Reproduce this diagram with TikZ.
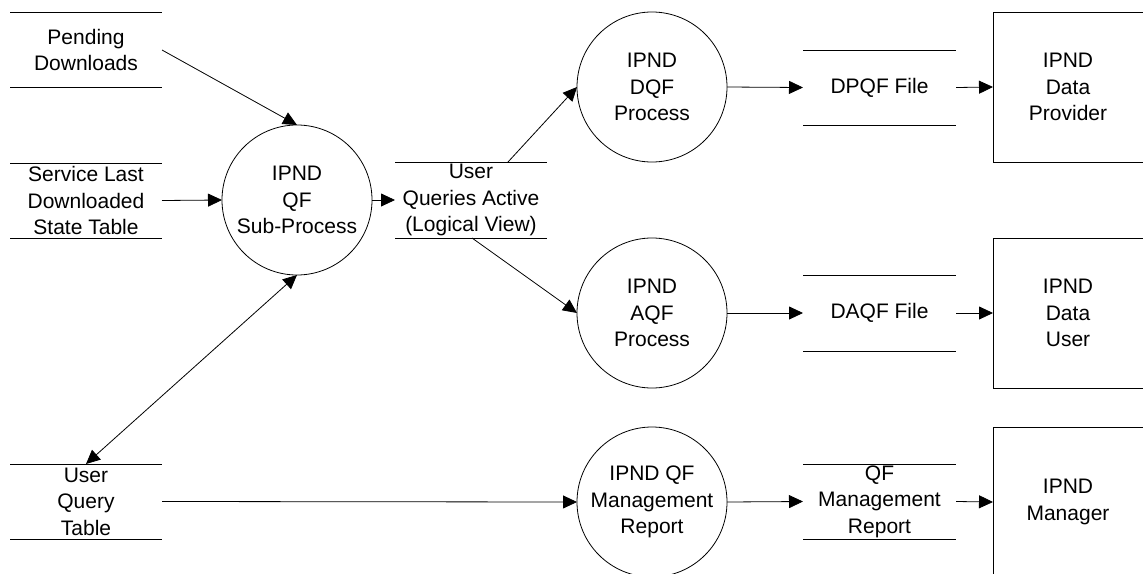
\documentclass[tikz,border=0pt]{standalone}
\usepackage{fontspec}
\setmainfont{Liberation Sans}
\usetikzlibrary{arrows.meta}

\begin{document}
\begin{tikzpicture}[x=1pt, y=-1pt, line width=0.8pt,
    >={Triangle[length=14pt,width=13pt]},
    every node/.style={font=\fontsize{21}{26.5}\selectfont, align=center, inner sep=0, outer sep=0},
    proc/.style={circle, draw, minimum size=150pt},
    store/.style={minimum width=152pt, minimum height=75pt},
    ext/.style={draw, minimum size=150pt},
    flow/.style={->}
  ]
    \useasboundingbox (0,0) rectangle (1143,573);
    \clip (0,0) rectangle (1143,573);
    % data stores
    \node[store] (pend) at (86,50) {Pending\\Downloads};
    \node[store] (svc) at (86,200.5) {Service Last\\Downloaded\\State Table};
    \node[store] (uqt) at (86,501.5) {User\\Query\\Table};
    \node[store, minimum height=76pt] (uqa) at (471,200) {User\\Queries Active\\(Logical View)};
    \node[store, minimum width=153pt] (dpqf) at (879.5,87.5) {DPQF File};
    \node[store, minimum width=153pt, minimum height=76pt] (daqf) at (879.5,313) {DAQF File};
    \node[store, minimum width=153pt] (qfmr) at (879.5,501.5) {QF\\Management\\Report};
    \foreach \s in {pend,svc,uqt,uqa,dpqf,daqf,qfmr}
      \draw[line width=0.6pt] (\s.north west) -- (\s.north east) (\s.south west) -- (\s.south east);
    % processes
    \node[proc] (qfsub) at (297,200) {IPND\\QF\\Sub-Process};
    \node[proc] (dqf) at (652,87) {IPND\\DQF\\Process};
    \node[proc] (aqf) at (652,313) {IPND\\AQF\\Process};
    \node[proc] (mgmt) at (652,502) {IPND QF\\Management\\Report};
    % external entities
    \node[ext] (prov) at (1068,87) {IPND\\Data\\Provider};
    \node[ext] (duser) at (1068,313) {IPND\\Data\\User};
    \node[ext] (mgr) at (1068,502) {IPND\\Manager};
    % flows
    \draw[flow] (pend.east) -- (qfsub.north);
    \draw[flow] (svc.east) -- (qfsub.west);
    \draw[flow] (qfsub.east) -- (uqa.west);
    \draw[flow] ([xshift=37pt]uqa.north) -- (dqf.west);
    \draw[flow] ([xshift=1pt]uqa.south) -- (aqf.west);
    \draw[flow] (dqf.east) -- (dpqf.west);
    \draw[flow] (dpqf.east) -- (prov.west);
    \draw[flow] (aqf.east) -- (daqf.west);
    \draw[flow] (daqf.east) -- (duser.west);
    \draw[flow] (uqt.east) -- (mgmt.west);
    \draw[flow] (mgmt.east) -- (qfmr.west);
    \draw[flow] (qfmr.east) -- (mgr.west);
    \draw[<->] (uqt.north) -- (qfsub.south);
  \end{tikzpicture}
\end{document}
